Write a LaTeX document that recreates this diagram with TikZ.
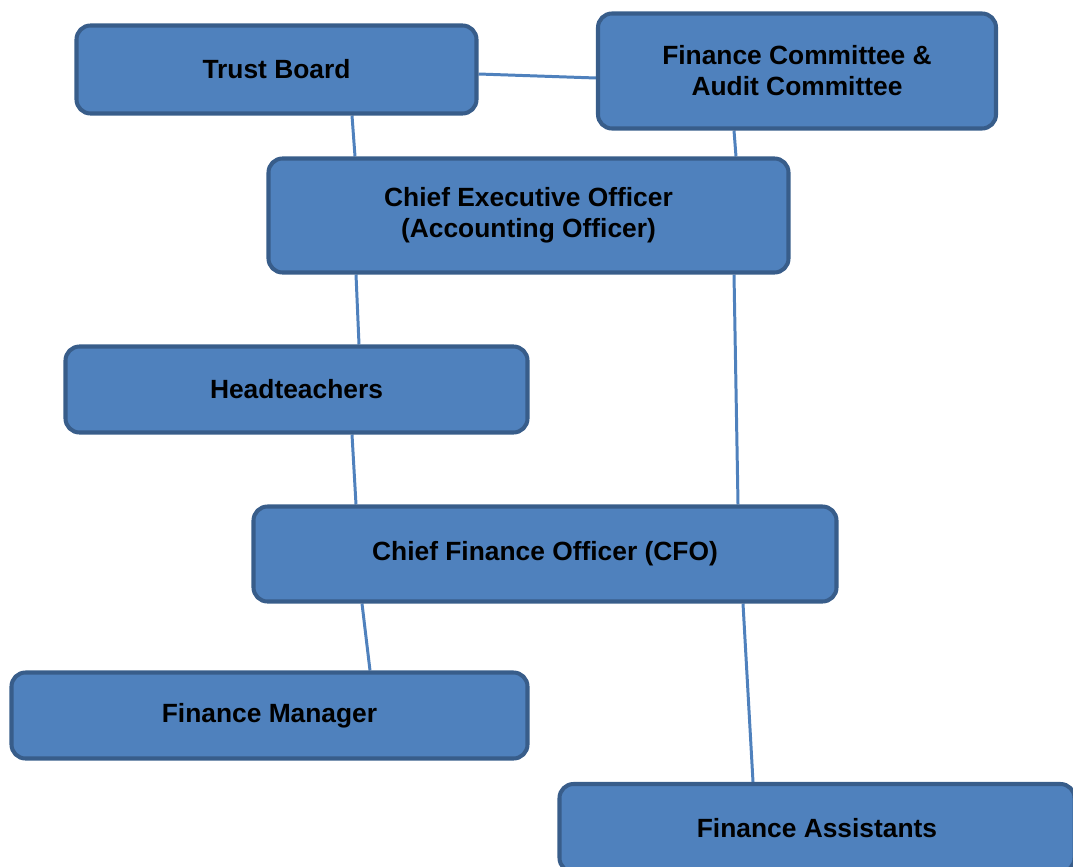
\documentclass[tikz,border=0pt]{standalone}
\usepackage{fontspec}
\setmainfont{Liberation Sans}
\usetikzlibrary{positioning, backgrounds}
\definecolor{boxblue}{RGB}{79, 129, 189}
\definecolor{boxedge}{RGB}{56, 93, 138}
\definecolor{linkblue}{RGB}{79, 129, 189}
\begin{document}
\begin{tikzpicture}[
    orgbox/.style={rectangle, draw=boxedge, fill=boxblue, line width=2.3pt, rounded corners=0.28cm, align=center, font=\fontsize{15}{17.7}\selectfont\bfseries, text=black},
    link/.style={draw=linkblue, line width=1.7pt}
]
\clip (0,0) rectangle (21.46,-17.32);

\node[orgbox, minimum width=8.0cm, minimum height=1.76cm] (board) at (5.53,-1.39) {Trust Board};
\node[orgbox, minimum width=7.96cm, minimum height=2.3cm] (committee) at (15.94,-1.42) {Finance Committee \&\\Audit Committee};
\node[orgbox, minimum width=10.4cm, minimum height=2.28cm] (ceo) at (10.57,-4.31) {Chief Executive Officer\\(Accounting Officer)};
\node[orgbox, minimum width=9.24cm, minimum height=1.72cm] (heads) at (5.93,-7.79) {Headteachers};
\node[orgbox, minimum width=11.66cm, minimum height=1.9cm] (cfo) at (10.9,-11.08) {Chief Finance Officer (CFO)};
\node[orgbox, minimum width=10.32cm, minimum height=1.72cm] (manager) at (5.39,-14.31) {Finance Manager};
\node[orgbox, minimum width=10.3cm, minimum height=1.76cm] (assistants) at (16.34,-16.56) {Finance Assistants};

% connectors
\begin{scope}[on background layer]
\draw[link] ([yshift=-0.09cm]board.east) -- ([yshift=-0.14cm]committee.west);
\draw[link] ([xshift=1.51cm]board.south) -- ([xshift=-3.47cm]ceo.north);
\draw[link] ([xshift=-1.26cm]committee.south) -- ([xshift=4.15cm]ceo.north);
\draw[link] ([xshift=-3.45cm]ceo.south) -- ([xshift=1.25cm]heads.north);
\draw[link] ([xshift=4.11cm]ceo.south) -- ([xshift=3.86cm]cfo.north);
\draw[link] ([xshift=1.11cm]heads.south) -- ([xshift=-3.78cm]cfo.north);
\draw[link] ([xshift=-3.66cm]cfo.south) -- ([xshift=2.01cm]manager.north);
\draw[link] ([xshift=3.96cm]cfo.south) -- ([xshift=-1.28cm]assistants.north);
\end{scope}

\end{tikzpicture}
\end{document}
